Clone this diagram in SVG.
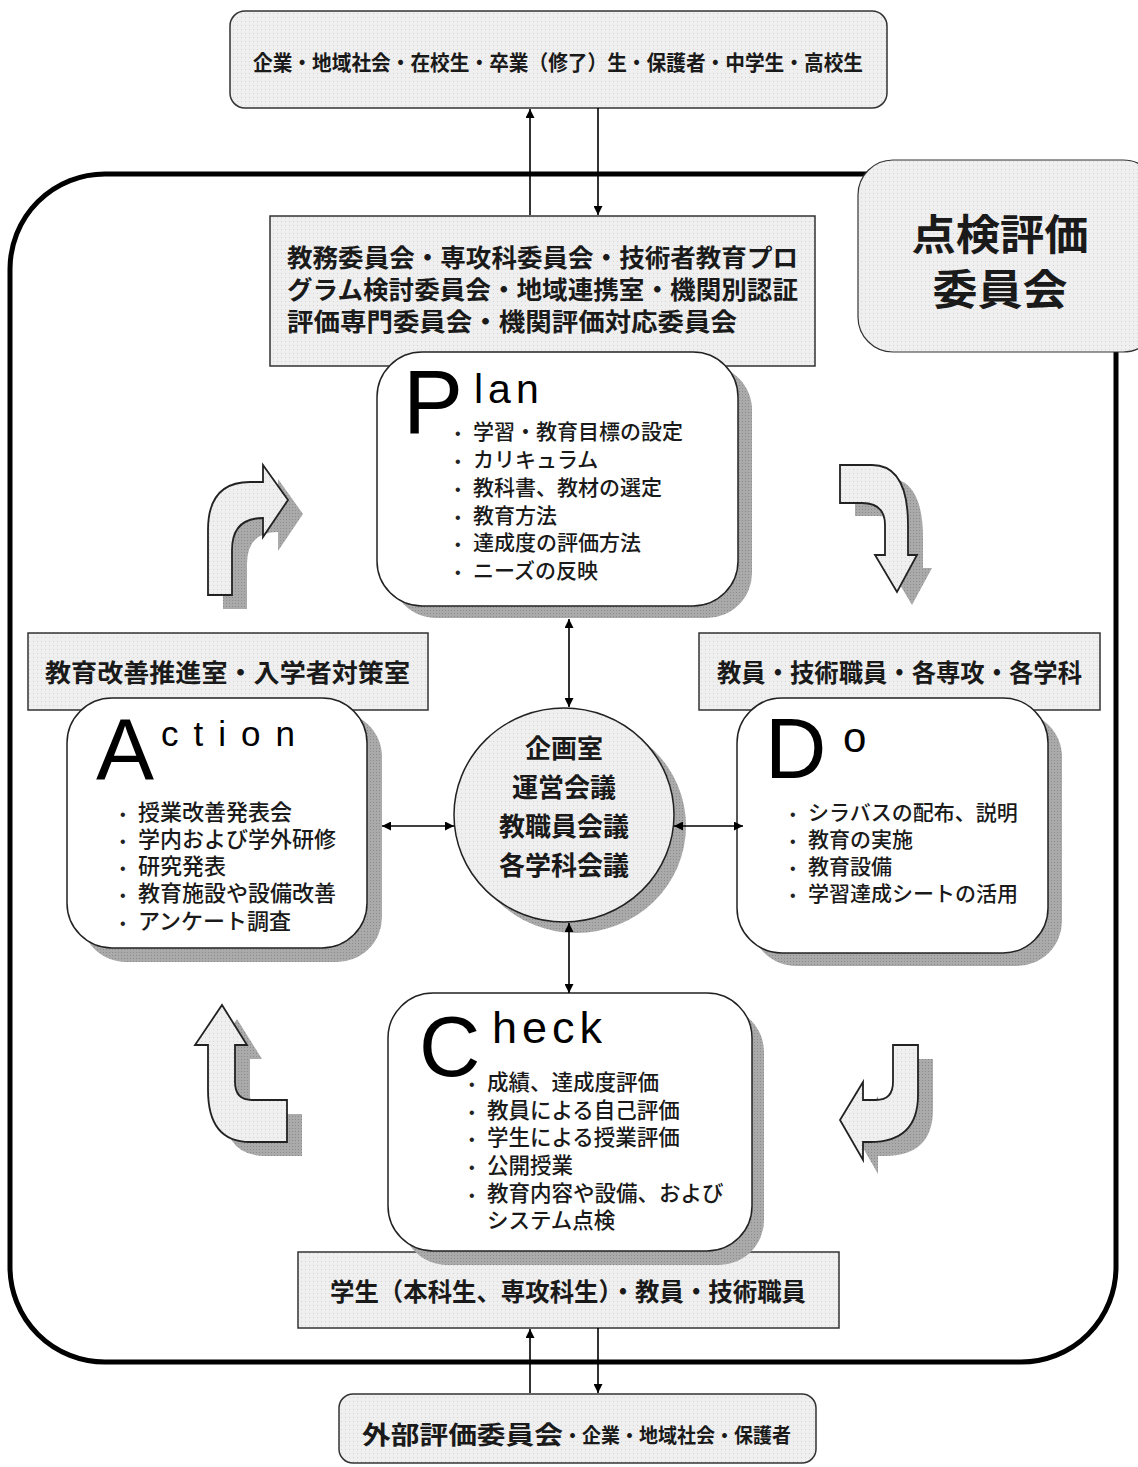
<svg xmlns="http://www.w3.org/2000/svg" width="1138" height="1467" viewBox="0 0 1138 1467">
<defs>
<pattern id="dots" width="4" height="4" patternUnits="userSpaceOnUse">
<rect width="4" height="4" fill="#efefef"/>
<rect x="1" y="1" width="1" height="1" fill="#d4d4d4"/>
</pattern>
<pattern id="shade" width="3" height="3" patternUnits="userSpaceOnUse">
<rect width="3" height="3" fill="#aaaaaa"/>
<rect x="1" y="1" width="1" height="1" fill="#8c8c8c"/>
</pattern>
<marker id="ah" viewBox="0 0 10 10" refX="10" refY="5" markerWidth="10" markerHeight="9" markerUnits="userSpaceOnUse" orient="auto-start-reverse">
<path d="M0,0 L10,5 L0,10 Z" fill="#000"/>
</marker>
<style>
.jp{font-family:"Noto Sans CJK JP","Noto Sans CJK SC",sans-serif;fill:#1a1a1a}
.hv{font-weight:700}
.md{font-weight:500}
.lab{fill:url(#dots);stroke:#333;stroke-width:1.5}
.card{fill:#fff;stroke:#222;stroke-width:1.5}
.shadow{fill:url(#shade)}
.big{font-family:"Liberation Sans",Arial,sans-serif;fill:#000}
.bul{font-family:"Liberation Sans",Arial,sans-serif;font-size:16px;fill:#222}
.conn{stroke:#000;stroke-width:1.6;fill:none}
.barrow{fill:url(#dots);stroke:#222;stroke-width:1.8;stroke-linejoin:miter}
</style>
</defs>
<rect width="1138" height="1467" fill="#fff"/>

<g id="frame">
<rect x="10" y="174" width="1106" height="1188" rx="95" ry="95" fill="none" stroke="#000" stroke-width="5"/>
</g>

<g id="top-stakeholders">
<rect class="lab" x="230" y="11" width="657" height="97" rx="15"/>
<text class="jp hv" x="253" y="70" font-size="21" textLength="610" lengthAdjust="spacingAndGlyphs">企業・地域社会・在校生・卒業（修了）生・保護者・中学生・高校生</text>
</g>

<g id="committees">
<rect class="lab" x="270" y="216" width="545" height="150"/>
<text class="jp hv" x="287" y="267" font-size="25" textLength="511" lengthAdjust="spacingAndGlyphs">教務委員会・専攻科委員会・技術者教育プロ</text>
<text class="jp hv" x="287" y="299" font-size="25" textLength="511" lengthAdjust="spacingAndGlyphs">グラム検討委員会・地域連携室・機関別認証</text>
<text class="jp hv" x="287" y="331" font-size="25" textLength="450" lengthAdjust="spacingAndGlyphs">評価専門委員会・機関評価対応委員会</text>
</g>

<g id="evaluation-committee">
<rect class="lab" x="858" y="160" width="300" height="192" rx="35" style="stroke-width:1.2"/>
<text class="jp hv" x="1000" y="250" font-size="42" text-anchor="middle" textLength="177" lengthAdjust="spacingAndGlyphs">点検評価</text>
<text class="jp hv" x="1000" y="305" font-size="42" text-anchor="middle" textLength="135" lengthAdjust="spacingAndGlyphs">委員会</text>
</g>

<g id="cycle-arrows">
<path class="shadow" transform="translate(15,14)" d="M208,595 L208,530 Q208,482 250,482 L263,482 L263,465 L288,500 L263,537 L263,518 Q232,518 232,550 L232,595 Z"/>
<path class="barrow" d="M208,595 L208,530 Q208,482 250,482 L263,482 L263,465 L288,500 L263,537 L263,518 Q232,518 232,550 L232,595 Z"/>
<path class="shadow" transform="translate(15,13)" d="M840,465 L872,465 Q908,465 908,525 L908,555 L917,555 L897,592 L875,555 L885,555 L885,525 Q885,503 862,503 L840,503 Z"/>
<path class="barrow" d="M840,465 L872,465 Q908,465 908,525 L908,555 L917,555 L897,592 L875,555 L885,555 L885,525 Q885,503 862,503 L840,503 Z"/>
<path class="shadow" transform="translate(15,14)" d="M893,1045 L918,1045 L918,1095 Q918,1142 870,1142 L863,1142 L863,1160 L840,1120 L863,1082 L863,1100 L876,1100 Q893,1100 893,1082 Z"/>
<path class="barrow" d="M893,1045 L918,1045 L918,1095 Q918,1142 870,1142 L863,1142 L863,1160 L840,1120 L863,1082 L863,1100 L876,1100 Q893,1100 893,1082 Z"/>
<path class="shadow" transform="translate(15,14)" d="M222,1005 L247,1045 L235,1045 L235,1082 Q235,1100 252,1100 L287,1100 L287,1142 L250,1142 Q208,1142 208,1090 L208,1045 L195,1045 Z"/>
<path class="barrow" d="M222,1005 L247,1045 L235,1045 L235,1082 Q235,1100 252,1100 L287,1100 L287,1142 L250,1142 Q208,1142 208,1090 L208,1045 L195,1045 Z"/>
</g>

<g id="plan">
<rect class="shadow" x="391" y="365" width="361" height="253" rx="45"/>
<rect class="card" x="377" y="352" width="361" height="254" rx="45"/>
<text class="big" x="403" y="433" font-size="90">P</text>
<text class="big" x="474" y="403" font-size="41" letter-spacing="5">lan</text>
<g class="jp md" font-size="21">
<text x="455" y="439"><tspan class="bul">•</tspan><tspan x="473">学習・教育目標の設定</tspan></text>
<text x="455" y="467"><tspan class="bul">•</tspan><tspan x="473">カリキュラム</tspan></text>
<text x="455" y="495"><tspan class="bul">•</tspan><tspan x="473">教科書、教材の選定</tspan></text>
<text x="455" y="523"><tspan class="bul">•</tspan><tspan x="473">教育方法</tspan></text>
<text x="455" y="550"><tspan class="bul">•</tspan><tspan x="473">達成度の評価方法</tspan></text>
<text x="455" y="578"><tspan class="bul">•</tspan><tspan x="473">ニーズの反映</tspan></text>
</g>
</g>

<g id="action">
<rect class="lab" x="28" y="633" width="400" height="77"/>
<text class="jp hv" x="45" y="682" font-size="25" textLength="365" lengthAdjust="spacingAndGlyphs">教育改善推進室・入学者対策室</text>
<rect class="shadow" x="81" y="712" width="301" height="250" rx="45"/>
<rect class="card" x="67" y="698" width="300" height="250" rx="45"/>
<text class="big" x="96" y="780" font-size="87">A</text>
<text class="big" x="161" y="746" font-size="35" letter-spacing="15">ction</text>
<g class="jp md" font-size="22">
<text x="120" y="820"><tspan class="bul">•</tspan><tspan x="138">授業改善発表会</tspan></text>
<text x="120" y="847"><tspan class="bul">•</tspan><tspan x="138">学内および学外研修</tspan></text>
<text x="120" y="874"><tspan class="bul">•</tspan><tspan x="138">研究発表</tspan></text>
<text x="120" y="901"><tspan class="bul">•</tspan><tspan x="138">教育施設や設備改善</tspan></text>
<text x="120" y="929"><tspan class="bul">•</tspan><tspan x="138">アンケート調査</tspan></text>
</g>
</g>

<g id="do">
<rect class="lab" x="699" y="633" width="401" height="77"/>
<text class="jp hv" x="717" y="682" font-size="25" textLength="365" lengthAdjust="spacingAndGlyphs">教員・技術職員・各専攻・各学科</text>
<rect class="shadow" x="751" y="712" width="311" height="254" rx="45"/>
<rect class="card" x="737" y="698" width="311" height="255" rx="45"/>
<text class="big" x="765" y="778" font-size="85">D</text>
<text class="big" x="843" y="752" font-size="42">o</text>
<g class="jp md" font-size="21">
<text x="790" y="820"><tspan class="bul">•</tspan><tspan x="808">シラバスの配布、説明</tspan></text>
<text x="790" y="847"><tspan class="bul">•</tspan><tspan x="808">教育の実施</tspan></text>
<text x="790" y="874"><tspan class="bul">•</tspan><tspan x="808">教育設備</tspan></text>
<text x="790" y="901"><tspan class="bul">•</tspan><tspan x="808">学習達成シートの活用</tspan></text>
</g>
</g>

<g id="center">
<ellipse cx="576" cy="826" rx="110" ry="107" fill="url(#shade)"/>
<ellipse cx="564" cy="815" rx="110" ry="107" fill="url(#dots)" stroke="#222" stroke-width="1.5"/>
<g class="jp hv" font-size="26" text-anchor="middle">
<text x="564" y="758">企画室</text>
<text x="564" y="797">運営会議</text>
<text x="564" y="836">教職員会議</text>
<text x="564" y="875">各学科会議</text>
</g>
</g>

<g id="check">
<rect class="lab" x="298" y="1252" width="541" height="76"/>
<text class="jp hv" x="330" y="1301" font-size="25" textLength="476" lengthAdjust="spacingAndGlyphs">学生（本科生、専攻科生）・教員・技術職員</text>
<rect class="shadow" x="402" y="1007" width="362" height="258" rx="45"/>
<rect class="card" x="388" y="993" width="364" height="258" rx="45"/>
<text class="big" x="419" y="1076" font-size="85">C</text>
<text class="big" x="492" y="1043" font-size="45" letter-spacing="5">heck</text>
<g class="jp md" font-size="21.5">
<text x="469" y="1090"><tspan class="bul">•</tspan><tspan x="487">成績、達成度評価</tspan></text>
<text x="469" y="1118"><tspan class="bul">•</tspan><tspan x="487">教員による自己評価</tspan></text>
<text x="469" y="1145"><tspan class="bul">•</tspan><tspan x="487">学生による授業評価</tspan></text>
<text x="469" y="1173"><tspan class="bul">•</tspan><tspan x="487">公開授業</tspan></text>
<text x="469" y="1201"><tspan class="bul">•</tspan><tspan x="487">教育内容や設備、および</tspan></text>
<text x="487" y="1228">システム点検</text>
</g>
</g>

<g id="external">
<rect class="lab" x="339" y="1394" width="477" height="69" rx="14"/>
<text class="jp hv" x="362" y="1444" font-size="25" textLength="201" lengthAdjust="spacingAndGlyphs">外部評価委員会</text>
<text class="jp hv" x="563" y="1443" font-size="20" textLength="228" lengthAdjust="spacingAndGlyphs">・企業・地域社会・保護者</text>
</g>

<g id="connectors">
<line class="conn" x1="530" y1="215" x2="530" y2="109" marker-end="url(#ah)"/>
<line class="conn" x1="598" y1="108" x2="598" y2="215" marker-end="url(#ah)"/>
<line class="conn" x1="530" y1="1393" x2="530" y2="1329" marker-end="url(#ah)"/>
<line class="conn" x1="598" y1="1328" x2="598" y2="1393" marker-end="url(#ah)"/>
<line class="conn" x1="569" y1="619" x2="569" y2="707" marker-start="url(#ah)" marker-end="url(#ah)"/>
<line class="conn" x1="569" y1="923" x2="569" y2="993" marker-start="url(#ah)" marker-end="url(#ah)"/>
<line class="conn" x1="382" y1="826" x2="454" y2="826" marker-start="url(#ah)" marker-end="url(#ah)"/>
<line class="conn" x1="674" y1="826" x2="743" y2="826" marker-start="url(#ah)" marker-end="url(#ah)"/>
</g>
</svg>
